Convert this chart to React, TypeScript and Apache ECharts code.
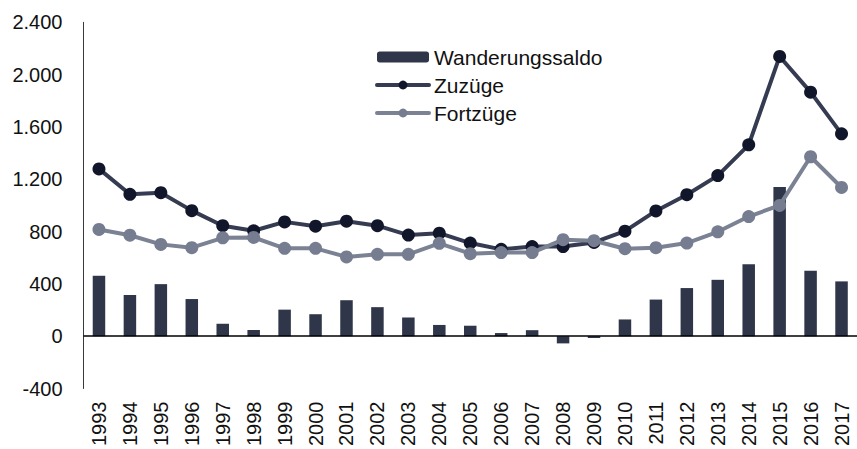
import React, { useEffect, useRef } from "react";
import * as echarts from "echarts";

const years = [
  "1993", "1994", "1995", "1996", "1997", "1998", "1999", "2000", "2001",
  "2002", "2003", "2004", "2005", "2006", "2007", "2008", "2009", "2010",
  "2011", "2012", "2013", "2014", "2015", "2016", "2017",
];
const wanderungssaldo = [
  462, 315, 398, 284, 95, 48, 203, 168, 275, 222, 143, 86, 80, 24, 46,
  -55, -14, 128, 280, 368, 431, 550, 1140, 500, 419,
];
const zuzuege = [
  1279, 1085, 1097, 960, 845, 806, 874, 841, 879, 845, 773, 788, 712, 664,
  685, 685, 717, 803, 958, 1082, 1228, 1463, 2139, 1866, 1547,
];
const fortzuege = [
  816, 772, 702, 677, 752, 755, 672, 672, 606, 626, 626, 710, 631, 639,
  639, 738, 730, 669, 677, 712, 798, 915, 1000, 1372, 1137,
];
const yTicks = { min: -400, max: 2400, interval: 400 };

const FONT = "'Liberation Sans', Arial, sans-serif";
const FS = 20;

function fmt(v: number): string {
  const s = String(Math.abs(v)).replace(/\B(?=(\d{3})+(?!\d))/g, ".");
  return v < 0 ? "-" + s : s;
}

export default function App() {
  const ref = useRef<HTMLDivElement>(null);
  useEffect(() => {
    if (!ref.current) return;
    const chart = echarts.init(ref.current, null, { renderer: "svg" });
    chart.setOption({
      animation: false,
      backgroundColor: "#ffffff",
      textStyle: { fontFamily: FONT },
      grid: { left: 83.5, right: -4.5, top: 22.3, bottom: 57.3, containLabel: false },
      legend: {
        orient: "vertical",
        left: 375,
        top: 46.5,
        itemWidth: 52,
        itemHeight: 11,
        itemGap: 7,
        lineStyle: { width: 4, cap: "round" },
        textStyle: { fontFamily: FONT, fontSize: 21, color: "#111", lineHeight: 20 },
        data: ["Wanderungssaldo", "Zuzüge", "Fortzüge"],
        padding: 0,
      },
      xAxis: {
        type: "category",
        data: years,
        boundaryGap: true,
        axisLine: { show: false, onZero: false },
        axisTick: { show: false },
        axisLabel: {
          rotate: 90,
          margin: 13,
          fontSize: FS,
          color: "#111",
          fontFamily: FONT,
          interval: 0,
        },
        splitLine: { show: false },
      },
      yAxis: {
        type: "value",
        min: yTicks.min,
        max: yTicks.max,
        interval: yTicks.interval,
        axisLine: { show: true, lineStyle: { color: "#3a3a3a", width: 1 } },
        axisTick: { show: false },
        splitLine: { show: false },
        axisLabel: {
          formatter: (v: number) => fmt(v),
          fontSize: FS,
          color: "#111",
          fontFamily: FONT,
          margin: 21,
        },
      },
      series: [
        {
          name: "Wanderungssaldo",
          type: "bar",
          data: wanderungssaldo,
          barWidth: 12.5,
          itemStyle: { color: "#2f3649" },
          markLine: {
            silent: true,
            symbol: "none",
            label: { show: false },
            lineStyle: { color: "#000", width: 1.5, type: "solid" },
            data: [{ yAxis: 0 }],
          },
        },
        {
          name: "Zuzüge",
          type: "line",
          data: zuzuege,
          symbol: "circle",
          symbolSize: 13,
          lineStyle: { color: "#353c51", width: 4 },
          itemStyle: { color: "#11162b" },
          z: 3,
        },
        {
          name: "Fortzüge",
          type: "line",
          data: fortzuege,
          symbol: "circle",
          symbolSize: 13,
          lineStyle: { color: "#7b8294", width: 4 },
          itemStyle: { color: "#767d90" },
          z: 4,
        },
      ],
    });
    return () => chart.dispose();
  }, []);
  return (
    <div
      ref={ref}
      style={{ position: "fixed", left: 0, top: 0, width: 857, height: 449 }}
    />
  );
}
